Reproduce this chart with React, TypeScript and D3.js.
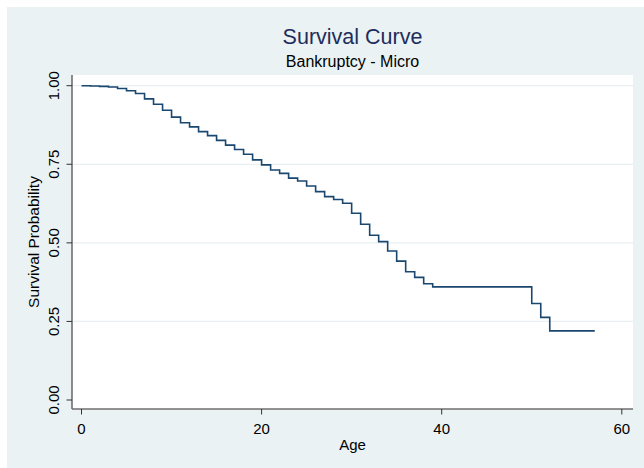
import React from "react";
import * as d3 from "d3";

const ages: number[] = [
  0, 1, 2, 3, 4, 5, 6, 7, 8, 9, 10, 11, 12, 13, 14, 15, 16, 17, 18, 19, 20,
  21, 22, 23, 24, 25, 26, 27, 28, 29, 30, 31, 32, 33, 34, 35, 36, 37, 38, 39,
  40, 41, 42, 43, 44, 45, 46, 47, 48, 49, 50, 51, 52, 53, 54, 55, 56, 57,
];
const survival: number[] = [
  1.0, 0.999, 0.998, 0.996, 0.991, 0.984, 0.975, 0.958, 0.941, 0.922, 0.9,
  0.882, 0.869, 0.854, 0.841, 0.826, 0.811, 0.797, 0.782, 0.764, 0.748,
  0.732, 0.721, 0.706, 0.697, 0.681, 0.663, 0.647, 0.638, 0.626, 0.594,
  0.559, 0.524, 0.504, 0.474, 0.442, 0.408, 0.39, 0.37, 0.36,
  0.36, 0.36, 0.36, 0.36, 0.36, 0.36, 0.36, 0.36, 0.36, 0.36, 0.307, 0.263, 0.22,
  0.22, 0.22, 0.22, 0.22, 0.22,
];
const xTicks: number[] = [0, 20, 40, 60];
const yTicks: number[] = [0, 0.25, 0.5, 0.75, 1];
const gridTicks: number[] = [0.25, 0.5, 0.75, 1];

const title = "Survival Curve";
const subtitle = "Bankruptcy - Micro";
const xTitle = "Age";
const yTitle = "Survival Probability";

const W = 644;
const H = 468;
const plot = { left: 72, right: 633, top: 75, bottom: 409 };
const font = "'Liberation Sans', Arial, Helvetica, sans-serif";

export default function App() {
  const x = d3.scaleLinear().domain([0, 60]).range([81.5, 621.8]);
  const y = d3.scaleLinear().domain([0, 1]).range([400, 85.7]);
  const data = ages.map((a, i) => [a, survival[i]] as [number, number]);
  const line = d3
    .line<[number, number]>()
    .x((d) => x(d[0]))
    .y((d) => y(d[1]))
    .curve(d3.curveStepAfter);
  const fmt = d3.format(".2f");
  const cx = (plot.left + plot.right) / 2;
  const cy = (plot.top + plot.bottom) / 2;

  return (
    <svg
      width={W}
      height={H}
      style={{ position: "absolute", left: 0, top: 0, display: "block" }}
      fontFamily={font}
    >
      <rect x={0} y={0} width={W} height={H} fill="#ffffff" />
      <rect x={7} y={7} width={W - 7} height={H - 7} fill="#EAF2F3" />
      <rect
        x={plot.left}
        y={plot.top}
        width={plot.right - plot.left}
        height={plot.bottom - plot.top}
        fill="#ffffff"
      />
      {gridTicks.map((t) => (
        <line
          key={"g" + t}
          x1={plot.left}
          x2={plot.right}
          y1={y(t)}
          y2={y(t)}
          stroke="#E8F0F2"
          strokeWidth={1.3}
        />
      ))}
      <path d={line(data) || ""} fill="none" stroke="#1a476f" strokeWidth={1.6} />
      <line x1={plot.left} x2={plot.left} y1={plot.top} y2={plot.bottom} stroke="#6f6f6f" strokeWidth={1.6} />
      <line x1={plot.left} x2={plot.right} y1={plot.bottom} y2={plot.bottom} stroke="#6f6f6f" strokeWidth={1.3} />
      {yTicks.map((t) => (
        <g key={"y" + t}>
          <line x1={plot.left - 5.5} x2={plot.left} y1={y(t)} y2={y(t)} stroke="#333" strokeWidth={1} />
          <text
            transform={`translate(58.5,${y(t)}) rotate(-90)`}
            textAnchor="middle"
            fontSize={15}
            fill="#000"
          >
            {fmt(t)}
          </text>
        </g>
      ))}
      {xTicks.map((t) => (
        <g key={"x" + t}>
          <line x1={x(t)} x2={x(t)} y1={plot.bottom} y2={plot.bottom + 5.5} stroke="#333" strokeWidth={1} />
          <text x={x(t)} y={434} textAnchor="middle" fontSize={15} fill="#000">
            {t}
          </text>
        </g>
      ))}
      <text x={cx} y={450} textAnchor="middle" fontSize={15} fill="#000">
        {xTitle}
      </text>
      <text
        transform={`translate(39,${cy}) rotate(-90)`}
        textAnchor="middle"
        fontSize={15.5}
        fill="#000"
      >
        {yTitle}
      </text>
      <text x={cx} y={44} textAnchor="middle" fontSize={21.5} fill="#1e2d5c">
        {title}
      </text>
      <text x={cx} y={67} textAnchor="middle" fontSize={16} fill="#000">
        {subtitle}
      </text>
    </svg>
  );
}
